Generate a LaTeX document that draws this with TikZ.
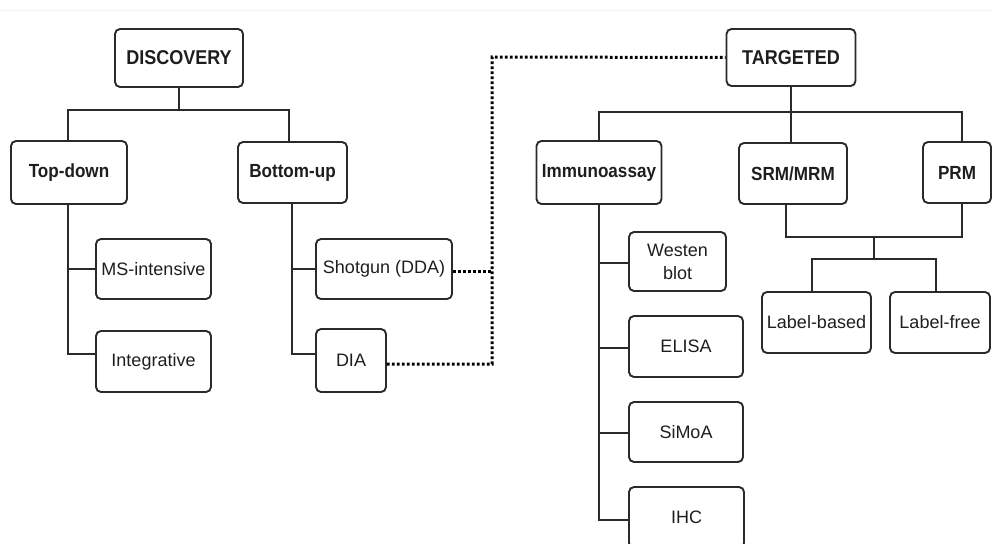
\documentclass[tikz,border=0pt]{standalone}
\usepackage{fontspec}
\setmainfont{Liberation Sans}[BoldFeatures={FakeStretch=0.9}]
\begin{document}
\begin{tikzpicture}[x=1pt,y=-1pt,
  box/.style={draw=linec, line width=1.9pt, rounded corners=5pt, text=txt,
    inner sep=0pt, align=center, font=\fontsize{18}{23}\selectfont},
  headbox/.style={box, font=\fontsize{20}{24}\selectfont\bfseries},
  subbox/.style={box, font=\fontsize{19}{23}\selectfont\bfseries},
  conn/.style={draw=linec, line width=1.9pt},
  dotline/.style={draw=black, line width=3pt, dash pattern=on 2.6pt off 2.4pt}]
\definecolor{linec}{HTML}{2A2A2A}
\definecolor{txt}{HTML}{1E1E1E}
\definecolor{topgray}{HTML}{F2F2F2}
\useasboundingbox (0,0) rectangle (992,543);
\clip (0,0) rectangle (992,543);
\draw[topgray, line width=1.6pt] (0,10.5) -- (992,10.5);

% nodes
\node[headbox, minimum width=128, minimum height=58] (disc) at (179,58) {DISCOVERY};
\node[headbox, minimum width=129, minimum height=57] (targ) at (791,57.5) {TARGETED};
\node[subbox, minimum width=116, minimum height=63] (topdown) at (69,172.5) {Top-down};
\node[subbox, minimum width=109, minimum height=61] (bottomup) at (292.5,172.5) {Bottom-up};
\node[box, minimum width=115, minimum height=60] (ms) at (153.5,269) {MS-intensive};
\node[box, minimum width=115, minimum height=61] (integ) at (153.5,361.5) {Integrative};
\node[box, minimum width=136, minimum height=60] (shotgun) at (384,269) {Shotgun (DDA)};
\node[box, minimum width=70, minimum height=63] (dia) at (351,360.5) {DIA};
\node[subbox, minimum width=125, minimum height=63] (immuno) at (599,172.5) {Immunoassay};
\node[subbox, minimum width=108, minimum height=61] (srm) at (793,173.5) {SRM/MRM};
\node[subbox, minimum width=68, minimum height=61] (prm) at (957,172.5) {PRM};
\node[box, minimum width=97, minimum height=59] (westen) at (677.5,261.5) {Westen\\blot};
\node[box, minimum width=114, minimum height=61] (elisa) at (686,346.5) {ELISA};
\node[box, minimum width=114, minimum height=60] (simoa) at (686,432) {SiMoA};
\node[box, minimum width=115, minimum height=61] (ihc) at (686.5,517.5) {IHC};
\node[box, minimum width=109, minimum height=61] (lbased) at (816.5,322.5) {Label-based};
\node[box, minimum width=100, minimum height=61] (lfree) at (940,322.5) {Label-free};

% junctions
\coordinate (dj) at (179,110);
\coordinate (tj) at (791,112);
\coordinate (mj) at (874,237);
\coordinate (lj) at (874,259);
\coordinate (dc) at (492,57);

% discovery tree
\draw[conn] (disc.south) -- (dj);
\draw[conn] ([xshift=-1pt]topdown.north) |- (dj) -| ([xshift=-3.5pt]bottomup.north);
\draw[conn] ([xshift=-1pt]topdown.south) |- ([yshift=7.5pt]integ.west);
\draw[conn] ([xshift=-1pt]topdown.south |- ms.west) -- (ms.west);
\draw[conn] ([xshift=-0.5pt]bottomup.south) |- ([yshift=6.5pt]dia.west);
\draw[conn] ([xshift=-0.5pt]bottomup.south |- shotgun.west) -- (shotgun.west);

% dotted links
\draw[dotline] ([yshift=-2pt]shotgun.east) -- ([yshift=-2pt]shotgun.east -| dc);
\draw[dotline] ([yshift=-3.5pt]dia.east) -| (dc) -- (targ.west);

% targeted tree
\draw[conn] (targ.south) -- (tj);
\draw[conn] (immuno.north) |- (tj) -| ([xshift=5pt]prm.north);
\draw[conn] (tj) -- (tj |- srm.north);
\draw[conn] (immuno.south) |- ([yshift=-2.5pt]ihc.west);
\draw[conn] ([yshift=-1.5pt]westen.west -| immuno.south) -- ([yshift=-1.5pt]westen.west);
\draw[conn] ([yshift=-1.5pt]elisa.west -| immuno.south) -- ([yshift=-1.5pt]elisa.west);
\draw[conn] ([yshift=-1pt]simoa.west -| immuno.south) -- ([yshift=-1pt]simoa.west);
\draw[conn] ([xshift=-7pt]srm.south) |- (mj);
\draw[conn] ([xshift=5pt]prm.south) |- (mj);
\draw[conn] (mj) -- (lj);
\draw[conn] ([xshift=-4.5pt]lbased.north) |- (lj) -| ([xshift=-4pt]lfree.north);
\end{tikzpicture}
\end{document}
